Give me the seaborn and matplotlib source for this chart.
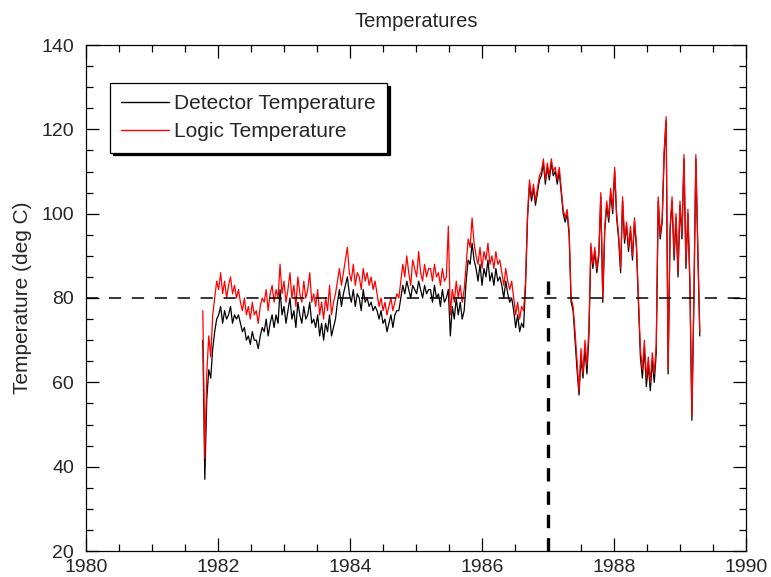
import numpy as np
import pandas as pd
import matplotlib
matplotlib.use("Agg")
import matplotlib.pyplot as plt
import seaborn as sns

# ---- data ----
start_year = 1981.77
end_year = 1989.30

logic_temp = [
    77, 42, 62, 71, 66, 76, 80, 84,
    82, 86, 81, 84, 80, 83, 85, 81, 83, 80, 82, 79,
    77, 80, 76, 78, 75, 79, 76, 77, 74, 78, 80,
    79, 82, 77, 81, 83, 79, 82, 80, 88, 81,
    84, 79, 82, 86, 80, 83, 78, 85, 81, 79, 84, 80, 82, 86, 79, 81,
    78, 82, 76, 79, 75, 80, 77, 83, 76, 79, 81,
    84, 87, 83, 86, 89, 92, 86, 84, 88, 83, 86, 85, 82, 87, 84, 86, 83, 85, 82, 84,
    81, 78, 80, 77, 79, 76, 78, 80, 77, 79, 81, 80,
    84, 88, 85, 90, 86, 83, 89, 87, 85, 91, 86, 84, 88, 85, 87,
    87, 84, 88, 85, 86, 83, 87, 84, 85,
    97,
    76, 82, 79, 84, 80, 83, 79, 82,
    88, 94, 92, 99, 93,
    90, 88, 92, 87, 91, 89, 93, 88, 90, 87, 91, 88, 89,
    86, 83, 87, 84, 82, 84,
    80, 76, 79, 75, 78, 77,
    84, 100, 108,
    104, 107, 103, 106, 109,
    110, 113, 108, 112, 109, 113, 110, 111, 108, 111,
    106, 101, 99, 101, 96,
    80, 78,
    72, 65, 58, 68, 62, 70, 64, 73,
    93,
    88, 92, 87, 91, 105, 80,
    97, 103, 99, 106, 101, 111, 100,
    95, 87, 104, 94, 98, 92, 97, 90, 99, 93,
    80,
    68, 63, 70, 61, 66, 60, 67, 62, 69,
    104, 95, 99, 115, 123, 63, 97, 104, 90, 100, 86,
    103, 95, 114, 88, 101, 84, 52, 80, 114, 92, 72,
]

detector_temp = [
    70, 37, 56, 63, 61, 68, 72, 75,
    76, 78, 74, 77, 75, 76, 78, 74, 76, 75, 76, 74,
    72, 73, 70, 71, 69, 72, 70, 70, 68, 71, 73,
    72, 75, 71, 74, 76, 73, 76, 74, 82, 76,
    78, 74, 77, 80, 75, 77, 73, 79, 76, 74, 78, 75, 76, 79, 74, 75,
    73, 76, 71, 74, 70, 74, 72, 76, 71, 73, 75,
    79, 82, 78, 81, 83, 85, 81, 79, 82, 78, 81, 80, 77, 82, 79, 80, 78, 79, 77, 78,
    77, 75, 77, 74, 75, 72, 74, 76, 73, 76, 77, 77,
    80, 83, 81, 84, 82, 80, 83, 82, 81, 84, 82, 80, 83, 81, 82,
    82, 79, 83, 80, 81, 78, 82, 79, 80,
    82,
    71, 78, 75, 80, 76, 79, 75, 77,
    84, 89, 88, 93, 89,
    87, 84, 88, 83, 87, 85, 89, 84, 86, 83, 87, 84, 85,
    83, 80, 84, 81, 79, 80,
    77, 73, 76, 72, 74, 73,
    83, 99, 107,
    103, 106, 102, 105, 108,
    109, 112, 107, 111, 108, 112, 109, 110, 107, 110,
    105, 100, 98, 100, 95,
    79, 77,
    70, 63, 57, 66, 61, 68, 62, 71,
    92,
    87, 91, 86, 90, 104, 79,
    96, 102, 98, 105, 100, 110, 99,
    94, 86, 103, 93, 97, 91, 96, 89, 98, 92,
    79,
    66, 61, 68, 59, 64, 58, 65, 60, 67,
    103, 94, 98, 114, 122, 62, 96, 103, 89, 99, 85,
    102, 94, 113, 87, 100, 83, 51, 79, 113, 91, 71,
]

threshold = 80
event_year = 1987.0
event_top = 85

x_ticks = [1980, 1982, 1984, 1986, 1988, 1990]
y_ticks = [20, 40, 60, 80, 100, 120, 140]

years = np.linspace(start_year, end_year, len(logic_temp))
df = pd.DataFrame({"year": years, "detector": detector_temp, "logic": logic_temp})

# ---- style ----
sns.set_style("ticks")
plt.rcParams["font.family"] = ["Liberation Sans", "DejaVu Sans"]

fig = plt.figure(figsize=(7.71, 5.77), dpi=100)
ax = fig.add_axes([86 / 771, 26 / 577, 660 / 771, 506 / 577])

sns.lineplot(data=df, x="year", y="detector", color="black", lw=0.9,
             ax=ax, label="Detector Temperature")
sns.lineplot(data=df, x="year", y="logic", color="red", lw=0.9,
             ax=ax, label="Logic Temperature")

ax.axhline(threshold, color="black", lw=1.1, dashes=(8, 7))
ax.vlines(event_year, y_ticks[0], event_top, color="black", lw=2.4,
          linestyles=[(0, (4, 3))])

ax.set_xlim(x_ticks[0], x_ticks[-1])
ax.set_ylim(y_ticks[0], y_ticks[-1])
ax.set_xticks(x_ticks)
ax.set_yticks(y_ticks)
ax.set_xticks(np.arange(x_ticks[0], x_ticks[-1] + 0.01, 0.5), minor=True)
ax.set_yticks(np.arange(y_ticks[0], y_ticks[-1] + 0.01, 5), minor=True)
ax.tick_params(which="both", direction="in", top=True, right=True,
               color="black", width=0.9, labelsize=14)
ax.tick_params(axis="x", which="major", pad=5.5)
ax.tick_params(axis="y", which="major", pad=8.5)
ax.tick_params(which="major", length=9.5)
ax.tick_params(which="minor", length=5)
for s in ax.spines.values():
    s.set_color("black")
    s.set_linewidth(0.9)

ax.set_xlabel("")
ax.set_ylabel("Temperature (deg C)", fontsize=15, labelpad=7)
ax.set_title("Temperatures", fontsize=14.5, pad=13)

leg = ax.legend(loc="upper left", bbox_to_anchor=(0.036, 0.925),
                borderaxespad=0, fontsize=15, frameon=True, fancybox=False,
                shadow={"color": "black", "alpha": 1.0}, handlelength=2.3,
                handletextpad=0.25, borderpad=0.55, labelspacing=0.42)
leg.get_frame().set_edgecolor("black")
leg.get_frame().set_linewidth(0.9)
leg.get_frame().set_alpha(1.0)
for line in leg.get_lines():
    line.set_linewidth(1.0)

fig.savefig("out.png", dpi=100)
